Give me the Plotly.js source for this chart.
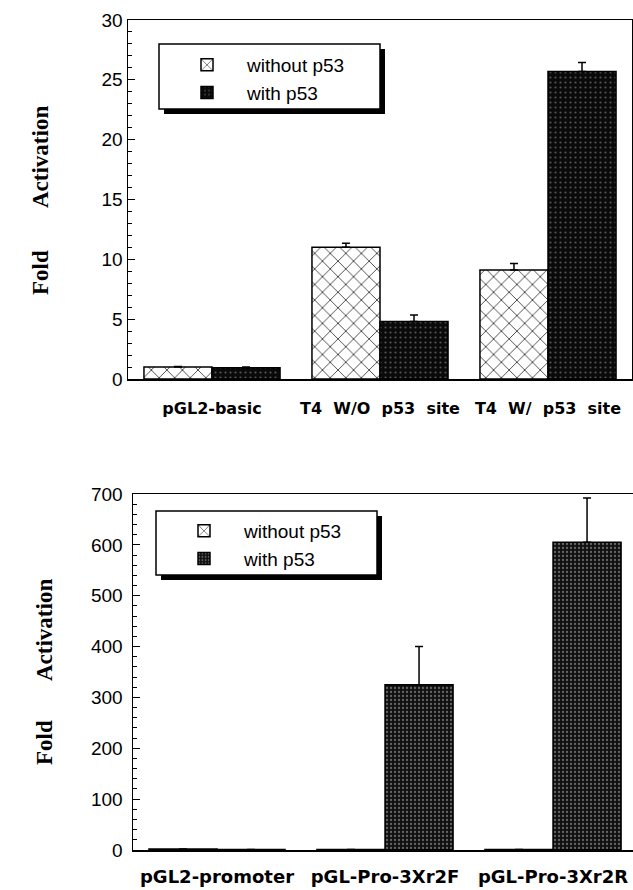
<!DOCTYPE html>
<html>
<head>
<meta charset="utf-8">
<script src="https://cdn.plot.ly/plotly-3.0.1.min.js"></script>
<style>html,body{margin:0;padding:0;background:#fff;}#chart{width:633px;height:890px;}</style>
</head>
<body>
<div id="chart"></div>
<script>
// ---- Data: top panel ----
const topCategories = ["pGL2-basic", "T4\u00a0\u00a0W/O\u00a0\u00a0p53\u00a0\u00a0site", "T4\u00a0\u00a0W/\u00a0\u00a0p53\u00a0\u00a0site"];
const topWithout = [1.0, 11.0, 9.1];
const topWithoutErr = [0.05, 0.35, 0.55];
const topWith = [0.95, 4.8, 25.7];
const topWithErr = [0.05, 0.55, 0.75];

// ---- Data: bottom panel ----
const botCategories = ["pGL2-promoter", "pGL-Pro-3Xr2F", "pGL-Pro-3Xr2R"];
const botWithout = [2, 1, 1];
const botWithoutErr = [0, 0, 0];
const botWith = [1, 325, 605];
const botWithErr = [0, 75, 87];

const seriesNames = ["without p53", "with p53"];

const W = 633, H = 890;
const px = v => v / W;
const py = v => 1 - v / H;

const withoutMarker = {
  color: "#ffffff",
  line: {color: "#000", width: 1.5},
  pattern: {shape: "x", fgcolor: "#000", bgcolor: "#fff", size: 11, solidity: 0.12}
};
const withMarkerTop = {
  color: "#0a0a0a",
  line: {color: "#000", width: 1.5},
  pattern: {shape: ".", fgcolor: "#555", bgcolor: "#0a0a0a", size: 5, solidity: 0.15}
};
const withMarkerBot = {
  color: "#1a1a1a",
  line: {color: "#000", width: 1.5},
  pattern: {shape: ".", fgcolor: "#666", bgcolor: "#111", size: 4, solidity: 0.25}
};
const err = arr => ({type: "data", array: arr, arrayminus: arr.map(() => 0), symmetric: false,
                     color: "#000", thickness: 1.5, width: 4});

const traces = [
  {type: "bar", name: seriesNames[0], x: topCategories, y: topWithout, error_y: err(topWithoutErr),
   marker: withoutMarker, xaxis: "x", yaxis: "y", legend: "legend"},
  {type: "bar", name: seriesNames[1], x: topCategories, y: topWith, error_y: err(topWithErr),
   marker: withMarkerTop, xaxis: "x", yaxis: "y", legend: "legend"},
  {type: "bar", name: seriesNames[0], x: botCategories, y: botWithout, error_y: err(botWithoutErr),
   marker: withoutMarker, xaxis: "x2", yaxis: "y2", legend: "legend2"},
  {type: "bar", name: seriesNames[1], x: botCategories, y: botWith, error_y: err(botWithErr),
   marker: withMarkerBot, xaxis: "x2", yaxis: "y2", legend: "legend2"}
];

const tickFont = {family: "Liberation Sans, Arial, sans-serif", size: 19, color: "#000"};
const catFont = {family: "DejaVu Sans, sans-serif", size: 16, color: "#000", weight: "bold"};
const titleFont = {family: "Liberation Serif, Times New Roman, serif", size: 23, color: "#000", weight: "bold"};
const legFont = {family: "Liberation Sans, Arial, sans-serif", size: 19, color: "#000"};

const yCommon = {
  ticks: "inside", ticklen: 7, tickwidth: 1.2, tickcolor: "#000",
  showline: true, linecolor: "#000", linewidth: 1.5, mirror: true,
  showgrid: false, zeroline: false, tickfont: tickFont, fixedrange: true
};
const xCommon = {
  type: "category", showline: true, linecolor: "#000", linewidth: 1.5,
  showgrid: false, zeroline: false, ticks: "", tickfont: catFont, ticklabelstandoff: 14, fixedrange: true
};

const layout = {
  width: W, height: H,
  margin: {l: 0, r: 0, t: 0, b: 0},
  paper_bgcolor: "#fff", plot_bgcolor: "#fff",
  barmode: "group", bargap: 0.19, bargroupgap: 0,
  xaxis: Object.assign({}, xCommon, {domain: [px(128), px(632)], range: [-0.5, 2.5], anchor: "y", mirror: true}),
  yaxis: Object.assign({}, yCommon, {domain: [py(379), py(20)], range: [0, 30], dtick: 5, tick0: 0,
    anchor: "x", minor: {dtick: 1, ticks: "inside", ticklen: 4, tickcolor: "#000", tickwidth: 1}}),
  xaxis2: Object.assign({}, xCommon, {domain: [px(133), 1], range: [-0.5, 2.476], anchor: "y2", mirror: true,
    ticklabelstandoff: 10, tickfont: Object.assign({}, catFont, {size: 18})}),
  yaxis2: Object.assign({}, yCommon, {domain: [py(850), py(494)], range: [0, 700], dtick: 100, tick0: 0,
    anchor: "x2", mirror: false, ticklabelstandoff: 5,
    minor: {dtick: 20, ticks: "inside", ticklen: 4, tickcolor: "#000", tickwidth: 1}}),
  legend: {x: px(167), y: py(46), xanchor: "left", yanchor: "top", bgcolor: "rgba(0,0,0,0)",
           borderwidth: 0, font: legFont, itemwidth: 70, tracegroupgap: 0},
  legend2: {x: px(164), y: py(512), xanchor: "left", yanchor: "top", bgcolor: "rgba(0,0,0,0)",
            borderwidth: 0, font: legFont, itemwidth: 70, tracegroupgap: 0},
  shapes: [
    // legend boxes with drop shadow (top)
    {type: "rect", xref: "paper", yref: "paper", x0: px(164), x1: px(385), y0: py(114), y1: py(49),
     fillcolor: "#000", line: {width: 0}, layer: "below"},
    {type: "rect", xref: "paper", yref: "paper", x0: px(159), x1: px(380), y0: py(109), y1: py(44),
     fillcolor: "#fff", line: {color: "#000", width: 1.5}, layer: "below"},
    // bottom
    {type: "rect", xref: "paper", yref: "paper", x0: px(161), x1: px(382), y0: py(580), y1: py(516),
     fillcolor: "#000", line: {width: 0}, layer: "below"},
    {type: "rect", xref: "paper", yref: "paper", x0: px(156), x1: px(377), y0: py(575), y1: py(511),
     fillcolor: "#fff", line: {color: "#000", width: 1.5}, layer: "below"}
  ],
  annotations: [
    {text: "Activation", xref: "paper", yref: "paper", x: px(41), y: py(157), textangle: -90,
     showarrow: false, font: titleFont, xanchor: "center", yanchor: "middle"},
    {text: "Fold", xref: "paper", yref: "paper", x: px(41), y: py(272), textangle: -90,
     showarrow: false, font: titleFont, xanchor: "center", yanchor: "middle"},
    {text: "Activation", xref: "paper", yref: "paper", x: px(44), y: py(630), textangle: -90,
     showarrow: false, font: titleFont, xanchor: "center", yanchor: "middle"},
    {text: "Fold", xref: "paper", yref: "paper", x: px(44), y: py(743), textangle: -90,
     showarrow: false, font: titleFont, xanchor: "center", yanchor: "middle"}
  ]
};

Plotly.newPlot("chart", traces, layout, {staticPlot: true, displayModeBar: false});
</script>
</body>
</html>
